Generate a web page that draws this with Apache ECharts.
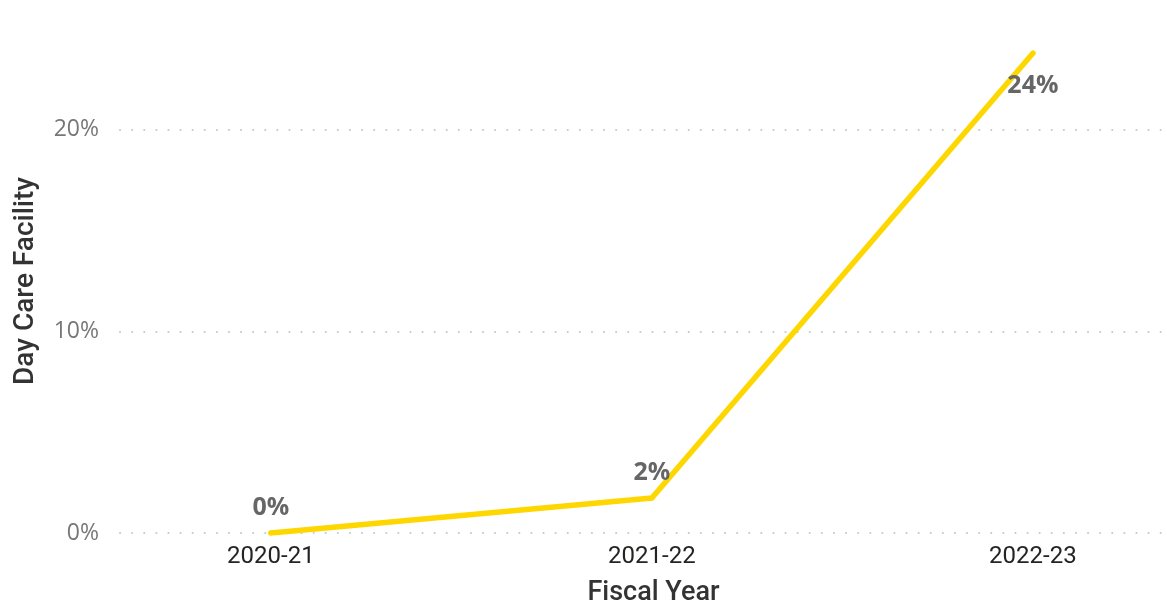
<!DOCTYPE html>
<html>
<head>
<meta charset="utf-8">
<style>
  html, body { margin: 0; padding: 0; background: #fff; }
  #chart { width: 1167px; height: 612px; }
</style>
<script src="https://cdn.jsdelivr.net/npm/echarts@6/dist/echarts.min.js"></script>
</head>
<body>
<div id="chart"></div>
<script>
// 数据
const fiscalYears = ['2020-21', '2021-22', '2022-23']
const dayCareShare = [0, 1.74, 23.8]
const yTicks = [0, 10, 20]

const chart = echarts.init(document.getElementById('chart'))

// 最后一个点的标签放在下方
const seriesData = dayCareShare.map((v, i) => {
  const item = { value: [i, v] }
  if (i === dayCareShare.length - 1) {
    item.label = { position: 'bottom', distance: 18 }
  }
  return item
})

const option = {
  animation: false,
  grid: {
    left: 120,
    right: 0,
    top: 29,
    bottom: 79
  },
  xAxis: {
    type: 'value',
    min: -0.396,
    max: 2.352,
    name: 'Fiscal Year',
    nameLocation: 'middle',
    nameGap: 47,
    nameTextStyle: {
      fontFamily: 'Roboto',
      fontWeight: 500,
      fontSize: 27,
      color: '#333',
      padding: [0, 0, 0, 20]
    },
    axisLine: { show: false },
    axisTick: { show: false },
    splitLine: { show: false },
    axisLabel: {
      customValues: fiscalYears.map((_, i) => i),
      formatter: (v) => fiscalYears[Math.round(v)] || '',
      fontFamily: 'Roboto',
      fontSize: 24,
      color: '#252423',
      margin: 12
    }
  },
  yAxis: {
    type: 'value',
    min: 0,
    max: 25,
    interval: 10,
    name: 'Day Care Facility',
    nameLocation: 'middle',
    nameGap: 80,
    nameTextStyle: {
      fontFamily: 'Roboto',
      fontWeight: 500,
      fontSize: 28,
      color: '#333'
    },
    axisLine: { show: false },
    axisTick: { show: false },
    axisLabel: {
      customValues: yTicks,
      formatter: (v) => v + '%',
      fontFamily: 'Open Sans',
      fontSize: 23,
      color: '#777',
      margin: 21
    },
    splitLine: {
      show: true,
      showMaxLine: false,
      lineStyle: {
        color: '#c8c8c8',
        width: 2,
        type: [0.1, 12],
        cap: 'round'
      }
    }
  },
  series: [
    {
      type: 'line',
      data: seriesData,
      symbol: 'circle',
      symbolSize: 5,
      itemStyle: { color: '#FFD700' },
      lineStyle: {
        color: '#FFD700',
        width: 5.5,
        cap: 'round',
        join: 'round'
      },
      label: {
        show: true,
        position: 'top',
        distance: 10,
        formatter: (p) => Math.round(p.value[1]) + '%',
        fontFamily: 'Open Sans',
        fontWeight: 'bold',
        fontSize: 25,
        color: '#666'
      }
    }
  ]
}

chart.setOption(option)
</script>
</body>
</html>
